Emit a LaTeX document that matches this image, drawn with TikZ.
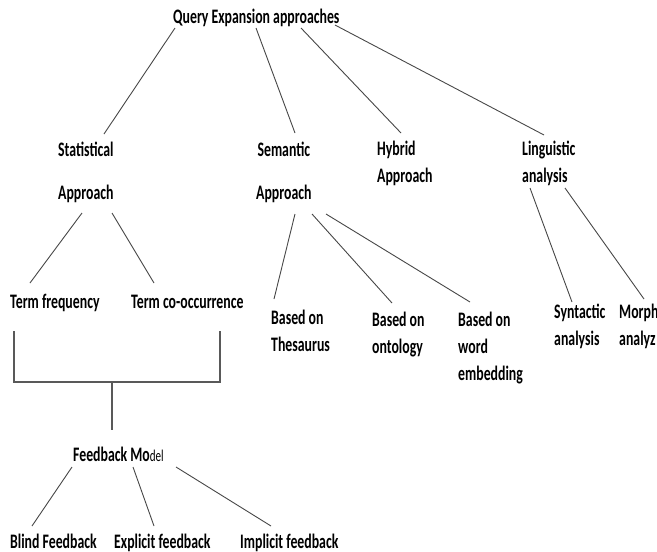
\documentclass[tikz,border=0pt]{standalone}
\usepackage{fontspec}
\newfontfamily\qefont{Carlito Bold}[FakeStretch=0.67]
\newfontfamily\qelight{Carlito}[FakeStretch=0.67]
\tikzset{lbl/.style={anchor=base west, inner sep=0pt, align=left, font=\qefont\fontsize{20.6}{27}\selectfont},
  edge/.style={draw=black!72, line width=0.9pt},
  brace/.style={draw=black!65, line width=1.4pt}}

\begin{document}
\begin{tikzpicture}[x=1pt, y=-1pt]
\useasboundingbox (0,0) rectangle (657,552);
\clip (0,0) rectangle (657,552);
% labels, placed by the baseline of their last line
\node [lbl] (root) at (173,23) {Query Expansion approaches};
\node [lbl] (stat) at (58,199) {Statistical\\[16pt]Approach};
\node [lbl, align=center] (sem) at (256,199) {Semantic\\[16pt]Approach};
\node [lbl] (hyb) at (377,182) {Hybrid\\Approach};
\node [lbl] (ling) at (522,182) {Linguistic\\analysis};
\node [lbl] (tf) at (10,308) {Term frequency};
\node [lbl] (tco) at (131,308) {Term co-occurrence};
\node [lbl] (thes) at (271,351) {Based on\\Thesaurus};
\node [lbl] (onto) at (372,353) {Based on\\ontology};
\node [lbl] (word) at (458,380) {Based on\\word\\embedding};
\node [lbl] (synt) at (554,345) {Syntactic\\analysis};
\node [lbl] (morph) at (619,345) {Morph\\analyz};
\node [lbl] (fb) at (73,461) {Feedback Mo{\qelight\fontsize{16.5}{27}\selectfont del}};
\node [lbl] (blind) at (10,548) {Blind Feedback};
\node [lbl] (expl) at (114,548) {Explicit feedback};
\node [lbl] (impl) at (240,548) {Implicit feedback};

% top level
\draw [edge] ([shift={(2,5)}]root.base west) -- ([shift={(46,-65)}]stat.base west);
\draw [edge] ([shift={(83,5)}]root.base west) -- ([shift={(39,-66)}]sem.base west);
\draw [edge] ([shift={(128,5)}]root.base west) -- ([shift={(24,-49)}]hyb.base west);
\draw [edge] ([shift={(162,2)}]root.base west) -- ([shift={(22,-47)}]ling.base west);

% statistical
\draw [edge] ([shift={(24,14)}]stat.base west) -- ([shift={(20,-25)}]tf.base west);
\draw [edge] ([shift={(54,14)}]stat.base west) -- ([shift={(23,-25)}]tco.base west);

% semantic
\draw [edge] ([shift={(39,15)}]sem.base west) -- ([shift={(3,-52)}]thes.base west);
\draw [edge] ([shift={(56,15)}]sem.base west) -- ([shift={(20,-50)}]onto.base west);
\draw [edge] ([shift={(70,15)}]sem.base west) -- ([shift={(12,-78)}]word.base west);

% linguistic
\draw [edge] ([shift={(8,6)}]ling.base west) -- ([shift={(18,-43)}]synt.base west);
\draw [edge] ([shift={(43,6)}]ling.base west) -- ([shift={(25,-46)}]morph.base west);

% bracket to feedback
\coordinate (lk) at ([shift={(4,74)}]tf.base west);
\coordinate (rk) at ([shift={(89,74)}]tco.base west);
\draw [brace] ([shift={(4,23)}]tf.base west) -- (lk) -- (rk) -- ([shift={(89,23)}]tco.base west);
\draw [brace] ([shift={(39,-79)}]fb.base west) -- ([shift={(39,-31)}]fb.base west);

% feedback
\draw [edge] ([shift={(-1,6)}]fb.base west) -- ([shift={(22,-22)}]blind.base west);
\draw [edge] ([shift={(60,6)}]fb.base west) -- ([shift={(40,-22)}]expl.base west);
\draw [edge] ([shift={(103,6)}]fb.base west) -- ([shift={(31,-22)}]impl.base west);
\end{tikzpicture}
\end{document}
